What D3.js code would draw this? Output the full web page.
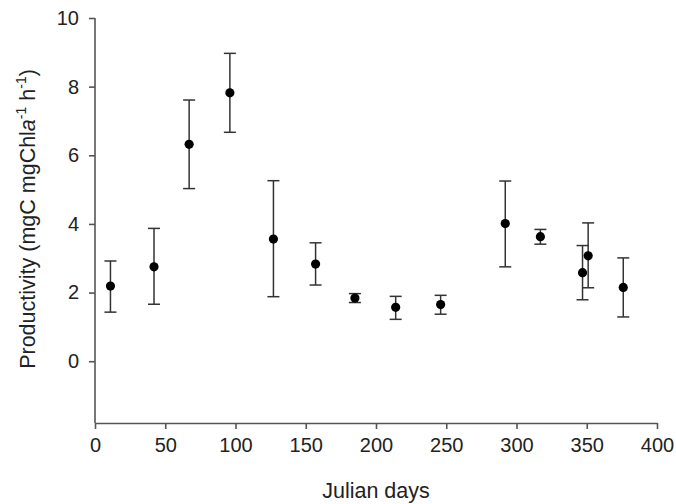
<!DOCTYPE html>
<html><head><meta charset="utf-8">
<script src="https://cdn.jsdelivr.net/npm/d3@7"></script>
<style>
body{margin:0;background:#fff;}
text{font-family:"Liberation Sans",Arial,sans-serif;fill:#222;}
</style></head>
<body><svg id="c" width="676" height="504"></svg>
<script>
const days  = [11, 42, 67, 96, 127, 157, 185, 214, 246, 292, 317, 347, 351, 376];
const prod  = [2.19, 2.75, 6.32, 7.82, 3.56, 2.83, 1.84, 1.57, 1.65, 4.01, 3.63, 2.58, 3.07, 2.15];
const upper = [2.92, 3.87, 7.61, 8.97, 5.26, 3.45, 1.97, 1.89, 1.92, 5.25, 3.84, 3.37, 4.03, 3.01];
const lower = [1.43, 1.66, 5.03, 6.67, 1.88, 2.22, 1.71, 1.22, 1.37, 2.75, 3.41, 1.79, 2.14, 1.29];
const xTicks = [0, 50, 100, 150, 200, 250, 300, 350, 400];
const yTicks = [0, 2, 4, 6, 8, 10];

const svg = d3.select("#c");
const x = d3.scaleLinear().domain([0, 400]).range([95, 657]);
const y = d3.scaleLinear().domain([-1.8, 10]).range([423, 18]);

const axisColor = "#555";
const gx = svg.append("g").attr("transform", `translate(0,${y(-1.8)})`)
  .call(d3.axisBottom(x).tickValues(xTicks).tickSizeInner(6).tickSizeOuter(0).tickPadding(9));
const gy = svg.append("g").attr("transform", `translate(${x(0)},0)`)
  .call(d3.axisLeft(y).tickValues(yTicks).tickSizeInner(6).tickSizeOuter(0).tickPadding(10));
gy.select(".domain").attr("d", `M0,${y(10)}V${y(-1.8)}`);
[gx, gy].forEach(g => {
  g.selectAll(".domain, .tick line").attr("stroke", axisColor).attr("stroke-width", 1.6);
  g.selectAll(".tick text").attr("font-size", 20).attr("fill", "#222")
   .attr("font-family", "Liberation Sans, Arial, sans-serif");
});

const data = days.map((d, i) => ({d, v: prod[i], hi: upper[i], lo: lower[i]}));
const eb = svg.append("g").attr("stroke", "#333").attr("stroke-width", 1.5);
const cap = 6;
data.forEach(p => {
  eb.append("line").attr("x1", x(p.d)).attr("x2", x(p.d)).attr("y1", y(p.hi)).attr("y2", y(p.lo));
  eb.append("line").attr("x1", x(p.d) - cap).attr("x2", x(p.d) + cap).attr("y1", y(p.hi)).attr("y2", y(p.hi));
  eb.append("line").attr("x1", x(p.d) - cap).attr("x2", x(p.d) + cap).attr("y1", y(p.lo)).attr("y2", y(p.lo));
});
svg.append("g").selectAll("circle").data(data).join("circle")
  .attr("cx", p => x(p.d)).attr("cy", p => y(p.v)).attr("r", 4.6).attr("fill", "#000");

svg.append("text").attr("x", (x(0) + x(400)) / 2).attr("y", 498)
  .attr("text-anchor", "middle").attr("font-size", 21.5).text("Julian days");

const yl = svg.append("text").attr("transform", "translate(35,219) rotate(-90)")
  .attr("text-anchor", "middle").attr("font-size", 21.5);
yl.append("tspan").text("Productivity (mgC mgChl");
yl.append("tspan").attr("font-style", "italic").text("a");
yl.append("tspan").attr("font-size", 14).attr("dy", -9).text("-1");
yl.append("tspan").attr("dy", 9).text(" h");
yl.append("tspan").attr("font-size", 14).attr("dy", -9).text("-1");
yl.append("tspan").attr("dy", 9).text(")");
</script></body></html>
